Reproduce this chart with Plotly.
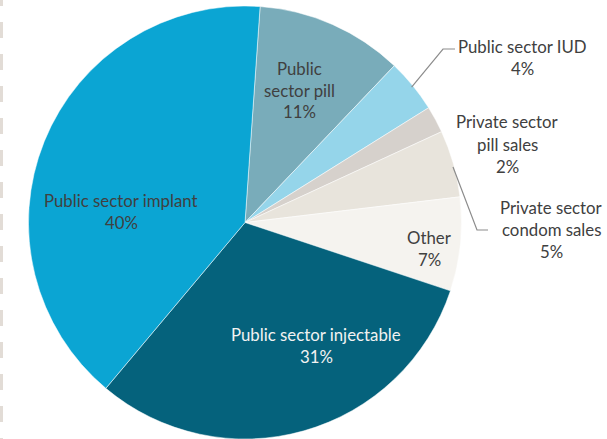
import math
import plotly.graph_objects as go

# ---- data ----
labels = ["Public sector pill", "Public sector IUD", "Private sector pill sales",
          "Private sector condom sales", "Other", "Public sector injectable",
          "Public sector implant"]
values = [11, 4, 2, 5, 7, 31, 40]
colors = ["#79ACBA", "#95D5EA", "#D6D1CC", "#E8E4DC", "#F5F3EF", "#05627C", "#0BA5D3"]

# label lines shown on the chart (text only)
label_lines = [
    ["Public", "sector pill", "11%"],
    ["Public sector IUD", "4%"],
    ["Private sector", "pill sales", "2%"],
    ["Private sector", "condom sales", "5%"],
    ["Other", "7%"],
    ["Public sector injectable", "31%"],
    ["Public sector implant", "40%"],
]

# ---- layout constants ----
W, H = 607, 439
CX, CY, R = 245, 223, 217
ROT = 4
FONT = "Lato"
FS = 16.8
LINE_H = 22

# label centre (px) of the first line
label_pos = [(299, 68), (522, 46), (507, 122), (551, 207), (429, 237), (316, 334), (121, 200)]
text_colors = ["#404040"] * 5 + ["#F2F2F2", "#404040"]

fig = go.Figure(go.Pie(
    labels=labels, values=values, sort=False, direction="clockwise",
    rotation=ROT, textinfo="none", hoverinfo="label+percent",
    marker=dict(colors=colors, line=dict(color="white", width=0.5)),
    domain=dict(x=[(CX - R) / W, (CX + R) / W], y=[max(0, (H - CY - R) / H), (H - CY + R) / H]),
    showlegend=False,
))

def px(x, y):
    return x / W, 1 - y / H

annotations = []
for lines, (lx, ly), tc in zip(label_lines, label_pos, text_colors):
    for i, t in enumerate(lines):
        ax, ay = px(lx, ly + i * LINE_H)
        annotations.append(dict(x=ax, y=ay, xref="paper", yref="paper", text=t,
                                showarrow=False, xanchor="center", yanchor="middle",
                                font=dict(family=FONT, size=FS, color=tc)))

# leader lines for the small outside labels (start at slice edge midpoint)
total = sum(values)
cum = 0
mids = []
for v in values:
    mids.append(ROT + (cum + v / 2) / total * 360)
    cum += v

def edge(angle_deg, r=R):
    a = math.radians(angle_deg)
    return CX + r * math.sin(a), CY - r * math.cos(a)

shapes = []
leaders = {1: [(443, 49), (455, 49)], 3: [(477, 230), (488, 230)]}
for idx, pts in leaders.items():
    sx, sy = edge(mids[idx], R - 2) if idx == 1 else (453, 167)
    path_pts = [(sx, sy)] + pts
    d = "M " + " L ".join(f"{px(x, y)[0]},{px(x, y)[1]}" for x, y in path_pts)
    shapes.append(dict(type="path", path=d, xref="paper", yref="paper",
                       line=dict(color="#8C8C8C", width=1.2)))

# dashed divider at left edge
shapes.append(dict(type="line", xref="paper", yref="paper",
                   x0=1.5 / W, x1=1.5 / W, y0=1 + 10 / H, y1=0,
                   line=dict(color="#E2DCD6", width=3, dash="16px,16px")))

fig.update_layout(
    width=W, height=H, margin=dict(l=0, r=0, t=0, b=0),
    paper_bgcolor="white", plot_bgcolor="white",
    annotations=annotations, shapes=shapes,
)
fig.write_html("out.html")
